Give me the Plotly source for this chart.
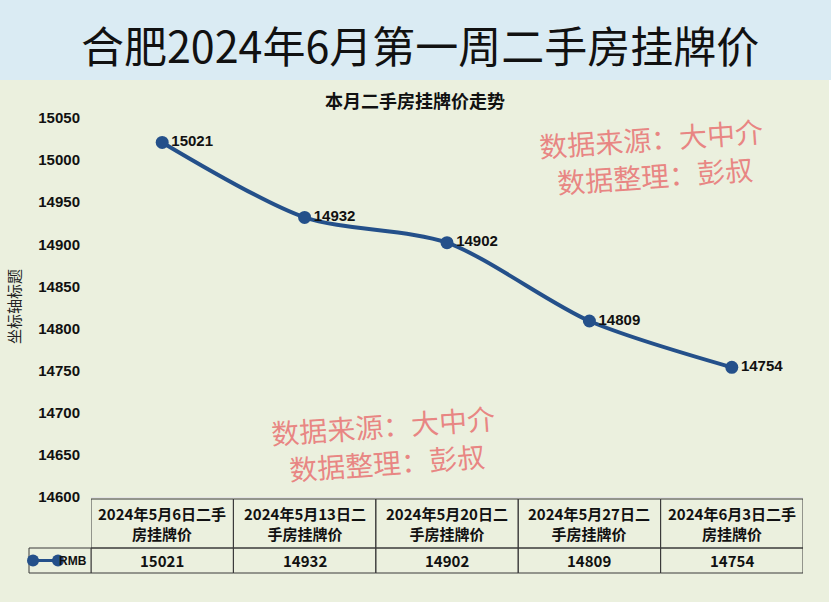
import plotly.graph_objects as go

# ---------------- data ----------------
dates = ["2024年5月6日", "2024年5月13日", "2024年5月20日", "2024年5月27日", "2024年6月3日"]
suffix = "二手房挂牌价"
categories = [d + suffix for d in dates]
prices = [15021, 14932, 14902, 14809, 14754]
series_name = "RMB"
y_ticks = [14600, 14650, 14700, 14750, 14800, 14850, 14900, 14950, 15000, 15050]
main_title = "合肥2024年6月第一周二手房挂牌价"
chart_title = "本月二手房挂牌价走势"
y_title = "坐标轴标题"
watermark_lines = ["数据来源：大中介", "数据整理：彭叔"]

# ---------------- geometry helpers ----------------
W, H = 831, 607
L, R, T, B = 91, 28, 118, 110
PW = W - L - R
PH = H - T - B


def px(x):
    return (x - L) / PW


def py(y):
    return (H - B - y) / PH


def wrap(s, maxw=8.0):
    lines, cur, w = [], "", 0.0
    for ch in s:
        cw = 0.5 if ch.isascii() else 1.0
        if w + cw > maxw:
            lines.append(cur)
            cur, w = "", 0.0
        cur += ch
        w += cw
    if cur:
        lines.append(cur)
    return "<br>".join(lines)


LINE_COLOR = "#24508A"
BG = "#EBF0DE"
BANNER = "#DAEBF3"
CJK = "Noto Sans CJK SC"
LAT = "Liberation Sans"

fig = go.Figure()
fig.add_trace(go.Scatter(
    x=categories, y=prices, mode="lines+markers+text",
    name=series_name,
    line=dict(color=LINE_COLOR, width=4, shape="spline", smoothing=0.8),
    marker=dict(color=LINE_COLOR, size=13),
    text=["<b>" + str(v) + "</b>" for v in prices], textposition="middle right",
    textfont=dict(family=LAT, size=15, color="#111111"),
    cliponaxis=False, showlegend=False,
))

shapes = []
annotations = []


def ann(**kw):
    d = dict(showarrow=False, xanchor="center", yanchor="middle")
    d.update(kw)
    annotations.append(d)


# banner
shapes.append(dict(type="rect", xref="paper", yref="paper", x0=px(0), x1=px(W), y0=py(80), y1=py(0),
                   fillcolor=BANNER, line=dict(width=0), layer="below"))
ann(text=main_title, xref="paper", yref="paper", x=px(420), y=py(44),
    font=dict(family=CJK, size=43, color="#111111"))
# bottom / right white strips
shapes.append(dict(type="rect", xref="paper", yref="paper", x0=px(0), x1=px(W), y0=py(H), y1=py(602),
                   fillcolor="#FFFFFF", line=dict(width=0), layer="below"))
shapes.append(dict(type="rect", xref="paper", yref="paper", x0=px(829), x1=px(W), y0=py(H), y1=py(80),
                   fillcolor="#FFFFFF", line=dict(width=0), layer="below"))

# chart title
ann(text="<b>" + chart_title + "</b>", xref="paper", yref="paper", x=px(415), y=py(100),
    font=dict(family=CJK, size=18, color="#111111"))
# y axis title
ann(text=y_title, xref="paper", yref="paper", x=px(13), y=py(307), textangle=-90,
    font=dict(family=CJK, size=15, color="#222222"))

# watermarks
for (cx, cy1, cy2) in [(651, 138, 175), (383, 425, 462)]:
    for line_txt, cy, dx in zip(watermark_lines, (cy1, cy2), (0, 4)):
        ann(text=line_txt, xref="paper", yref="paper", x=px(cx + dx), y=py(cy), textangle=-4,
            font=dict(family=CJK, size=28, color="rgba(232,115,115,0.85)"))

# data table
border = dict(color="#3A3A3A", width=1)
y_head_top, y_mid, y_bot = 499, 548, 573
for i, cat in enumerate(categories):
    shapes.append(dict(type="rect", xref="x", yref="paper", x0=i - 0.5, x1=i + 0.5,
                       y0=py(y_mid), y1=py(y_head_top), line=border))
    shapes.append(dict(type="rect", xref="x", yref="paper", x0=i - 0.5, x1=i + 0.5,
                       y0=py(y_bot), y1=py(y_mid), line=border))
    ann(text="<b>" + wrap(cat) + "</b>", xref="x", yref="paper", x=cat,
        y=py((y_head_top + y_mid) / 2), font=dict(family=CJK, size=15, color="#111111"))
    ann(text="<b>" + str(prices[i]) + "</b>", xref="x", yref="paper", x=cat,
        y=py((y_mid + y_bot) / 2), font=dict(family=CJK, size=15, color="#111111"))
# legend cell
shapes.append(dict(type="rect", xref="paper", yref="paper", x0=px(29), x1=px(L),
                   y0=py(y_bot), y1=py(y_mid), line=border))
ly = (y_mid + y_bot) / 2
shapes.append(dict(type="line", xref="paper", yref="paper", x0=px(33), x1=px(58), y0=py(ly), y1=py(ly),
                   line=dict(color=LINE_COLOR, width=3)))
for cxp in (33, 58):
    shapes.append(dict(type="circle", xref="paper", yref="paper", x0=px(cxp - 6), x1=px(cxp + 6),
                       y0=py(ly + 6), y1=py(ly - 6), fillcolor=LINE_COLOR, line=dict(width=0)))
ann(text="<b>" + series_name + "</b>", xref="paper", yref="paper", x=px(89), y=py(ly),
    xanchor="right", font=dict(family=LAT, size=12, color="#111111"))

fig.update_layout(
    width=W, height=H,
    margin=dict(l=L, r=R, t=T, b=B),
    paper_bgcolor=BG, plot_bgcolor=BG,
    shapes=shapes, annotations=annotations,
    xaxis=dict(type="category", range=[-0.5, 4.5], showticklabels=False, showgrid=False,
               zeroline=False, showline=True, linecolor="#E4E4E4", linewidth=1),
    yaxis=dict(range=[14600, 15050], tickvals=y_ticks, ticktext=["<b>" + str(v) + "</b>" for v in y_ticks],
               showgrid=False, zeroline=False, showline=False,
               ticks="", ticklabelstandoff=10,
               tickfont=dict(family=LAT, size=15, color="#111111")),
)

fig.write_html("out.html", config={"displayModeBar": False},
               post_script="document.body.style.margin='0';document.body.style.overflow='hidden';")
